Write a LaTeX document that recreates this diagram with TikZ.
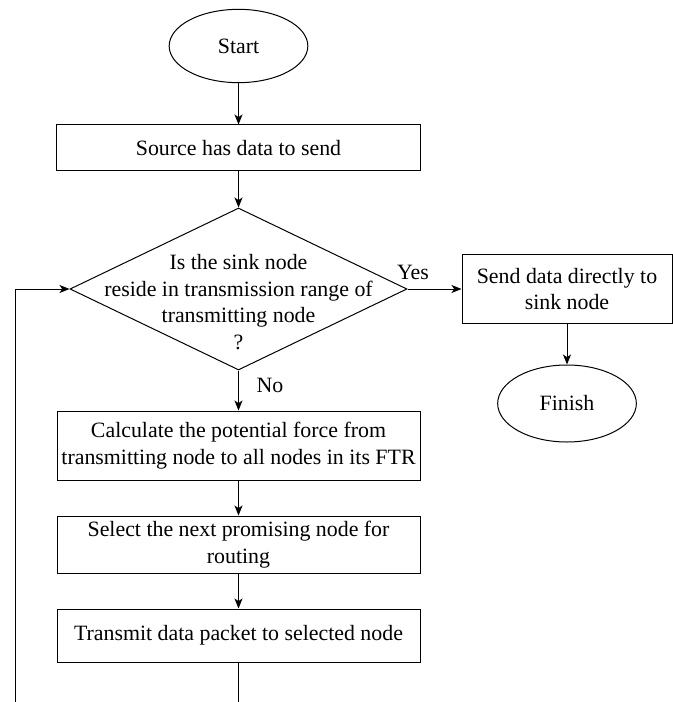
\documentclass[tikz,border=0pt]{standalone}
\usepackage{fontspec}
\setmainfont{Liberation Serif}
\usetikzlibrary{shapes.geometric,arrows.meta}

\begin{document}
\begin{tikzpicture}[
    x=0.75pt, y=-0.75pt,
    line width=0.75pt, % line style
    > = {Stealth[length=7.5pt,width=6pt,inset=2pt]}, % arrow head style
    every node/.style={font=\fontsize{16.4}{20}\selectfont},
    terminal/.style={ellipse, draw, inner sep=0pt},
    process/.style={rectangle, draw, align=center, inner sep=0pt},
    decision/.style={diamond, draw, inner sep=0pt},
]
\useasboundingbox (0,0) rectangle (673,702);

\node[terminal, minimum width=104pt, minimum height=55pt] (start) at (238.5,46) {Start};
\node[process, minimum width=273pt, minimum height=34.5pt] (source) at (238.5,148) {Source has data to send};
\node[decision, minimum width=252.75pt, minimum height=121.5pt] (dec) at (238.5,289) {};
\node[align=center] (decText) at (238.5,302) {Is the sink node\\reside in transmission range of\\transmitting node\\?};
\node[process, minimum width=157.5pt, minimum height=51.75pt] (send) at (567,289) {Send data directly to\\sink node};
\node[terminal, minimum width=104pt, minimum height=57.75pt] (finish) at (567,403.5) {Finish};
\node[process, minimum width=272.25pt, minimum height=51.75pt] (calc) at (238.5,445.5) {Calculate the potential force from\\transmitting node to all nodes in its FTR};
\node[process, minimum width=272.25pt, minimum height=42.75pt] (select) at (238.5,544.5) {Select the next promising node for\\routing};
\node[process, minimum width=272.25pt, minimum height=39.75pt] (transmit) at (238.5,635.5) {Transmit data packet to selected node};

% labels on the branches
\node (yes) at (413,272) {Yes};
\node (no) at (270,385) {No};

\coordinate (loopEnd) at (238.5,702);
\coordinate (loopStart) at (15,702);

\draw[->] (start) -- (source);
\draw[->] (source) -- (dec);
\draw[->] (dec.east) -- (send.west);
\draw[->] (send) -- (finish);
\draw[->] (dec) -- (calc);
\draw[->] (calc) -- (select);
\draw[->] (select) -- (transmit);
\draw (transmit) -- (loopEnd);
\draw[->] (loopStart) |- (dec.west);
\end{tikzpicture}
\end{document}
